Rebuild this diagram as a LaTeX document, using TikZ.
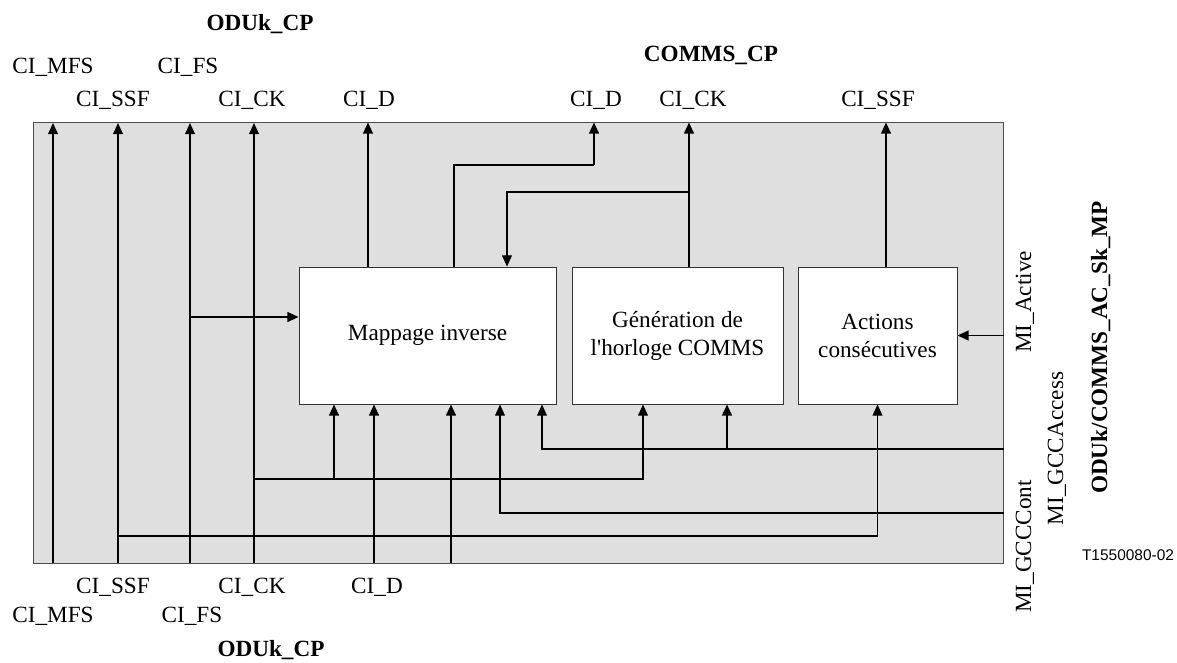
\documentclass[tikz,border=0pt]{standalone}
\usepackage{fontspec}
\setmainfont{Liberation Serif}
\newfontfamily\refsans{Liberation Sans}
\usepackage{tikz}
\usetikzlibrary{positioning, arrows.meta}

\begin{document}
\begin{tikzpicture}[
  x=0.025cm, y=-0.025cm,
  fblock/.style={draw=black!80, fill=white, line width=0.6pt, inner sep=2pt,
    align=center, font=\fontsize{16.5}{20}\selectfont},
  sig/.style={-{Triangle[length=8pt, width=7pt]}, line width=1.3pt},
  sigthin/.style={-{Triangle[length=8pt, width=7pt]}, line width=0.8pt},
  wire/.style={line width=0.8pt},
  plabel/.style={font=\fontsize{16.5}{20}\selectfont, inner sep=0pt, anchor=base},
  cplabel/.style={font=\fontsize{16.5}{20}\selectfont\bfseries, inner sep=0pt,
    anchor=base},
  milabel/.style={plabel, rotate=90},
]

\useasboundingbox (0,0) rectangle (1177,663);

% ── Outer block ──────────────────────────────────────────
\node[draw=black!70, fill=black!12.5, line width=0.7pt, inner sep=0pt,
  minimum width=24.225cm, minimum height=11cm] (blk) at (518.5,343) {};

% ── Functions ────────────────────────────────────────────
\node[fblock, minimum width=6.425cm, minimum height=3.425cm]
  (map) at (427.5,335.5) {Mappage inverse};
\node[fblock, minimum width=5.275cm, minimum height=3.425cm]
  (gen) at (677.5,335.5) {Génération de\\l\textquotesingle horloge COMMS};
\node[fblock, minimum width=3.975cm, minimum height=3.425cm]
  (act) at (877.5,335.5) {Actions\\consécutives};

% ── Ports on the block edge ──────────────────────────────
\foreach \n/\x in {mfs/53, ssf/118, fs/190, ck/254}{
  \coordinate (\n b) at (\x,563);
  \coordinate (\n t) at (\x,123);
}
\coordinate (db) at (374,563);
\coordinate (xb) at (451,563);
\coordinate (mcont) at (blk.east |- 0,513);
\coordinate (macc) at (blk.east |- 0,449);

% Junctions
\coordinate (jssf) at (118,536);
\coordinate (jfs) at (190,317);
\coordinate (jck) at (254,479);
\coordinate (jd) at (594,165);
\coordinate (jclk) at (689,192);

% ── ODUk_CP through signals ─────────────────────────────
\foreach \n in {mfs, ssf, fs, ck}
  \draw[sig] (\n b) -- (\n t);

\draw[sig] (jfs) -- (jfs -| map.west);
\draw[sigthin] (jssf) -| (act.south);
\draw[sigthin] (jck) -| (gen.south -| 643,0);
\draw[sig] (jck -| 334,0) -- (map.south -| 334,0);
\draw[sig] (db) -- (map.south -| db);
\draw[sig] (xb) -- (map.south -| xb);

% ── Management inputs ───────────────────────────────────
\draw[sigthin] (mcont) -| (map.south -| 500,0);
\draw[sigthin] (macc) -| (map.south -| 542,0);
\draw[sig] (macc -| 727,0) -- (gen.south -| 727,0);
\draw[sig] (blk.east |- act) -- (act.east);

% ── Outputs ─────────────────────────────────────────────
\draw[sig] (map.north -| 368,0) -- (blk.north -| 368,0);
\draw[wire] (map.north -| 454,0) |- (jd);
\draw[sig] (jd) -- (blk.north -| jd);
\draw[sig] (gen.north -| jclk) -- (blk.north -| jclk);
\draw[sigthin] (jclk) -| (map.north -| 507,0);
\draw[sig] (act.north -| 886,0) -- (blk.north -| 886,0);

% ── Labels: top ─────────────────────────────────────────
\node[cplabel] (lodukt) at (260,31) {ODUk\_CP};
\node[plabel] (lmfst) at (53,74) {CI\_MFS};
\node[plabel] (lfst) at (188,74) {CI\_FS};
\node[plabel] (lssft) at (113,107) {CI\_SSF};
\node[plabel] (lckt) at (252,107) {CI\_CK};
\node[plabel] (ldt) at (369,107) {CI\_D};
\node[cplabel] (lcomms) at (711,62) {COMMS\_CP};
\node[plabel] (lcd) at (596,107) {CI\_D};
\node[plabel] (lcck) at (693,107) {CI\_CK};
\node[plabel] (lcssf) at (878,107) {CI\_SSF};

% ── Labels: bottom ──────────────────────────────────────
\node[plabel] (lssfb) at (113,593) {CI\_SSF};
\node[plabel] (lckb) at (252,593) {CI\_CK};
\node[plabel] (ldb) at (377,593) {CI\_D};
\node[plabel] (lmfsb) at (53,622) {CI\_MFS};
\node[plabel] (lfsb) at (192,622) {CI\_FS};
\node[cplabel] (loduko) at (271,656) {ODUk\_CP};

% ── Labels: right ───────────────────────────────────────
\node[milabel] (lact) at (1031,302) {MI\_Active};
\node[milabel] (lcont) at (1031,546.5) {MI\_GCCCont};
\node[milabel] (lacc) at (1063,448.5) {MI\_GCCAccess};
\node[cplabel, rotate=90] (lmp) at (1107,347.5) {ODUk/COMMS\_AC\_Sk\_MP};
\node[font=\refsans\fontsize{11}{13}\selectfont, inner sep=0pt, anchor=base]
  (tag) at (1128,560) {T1550080-02};

\end{tikzpicture}
\end{document}
